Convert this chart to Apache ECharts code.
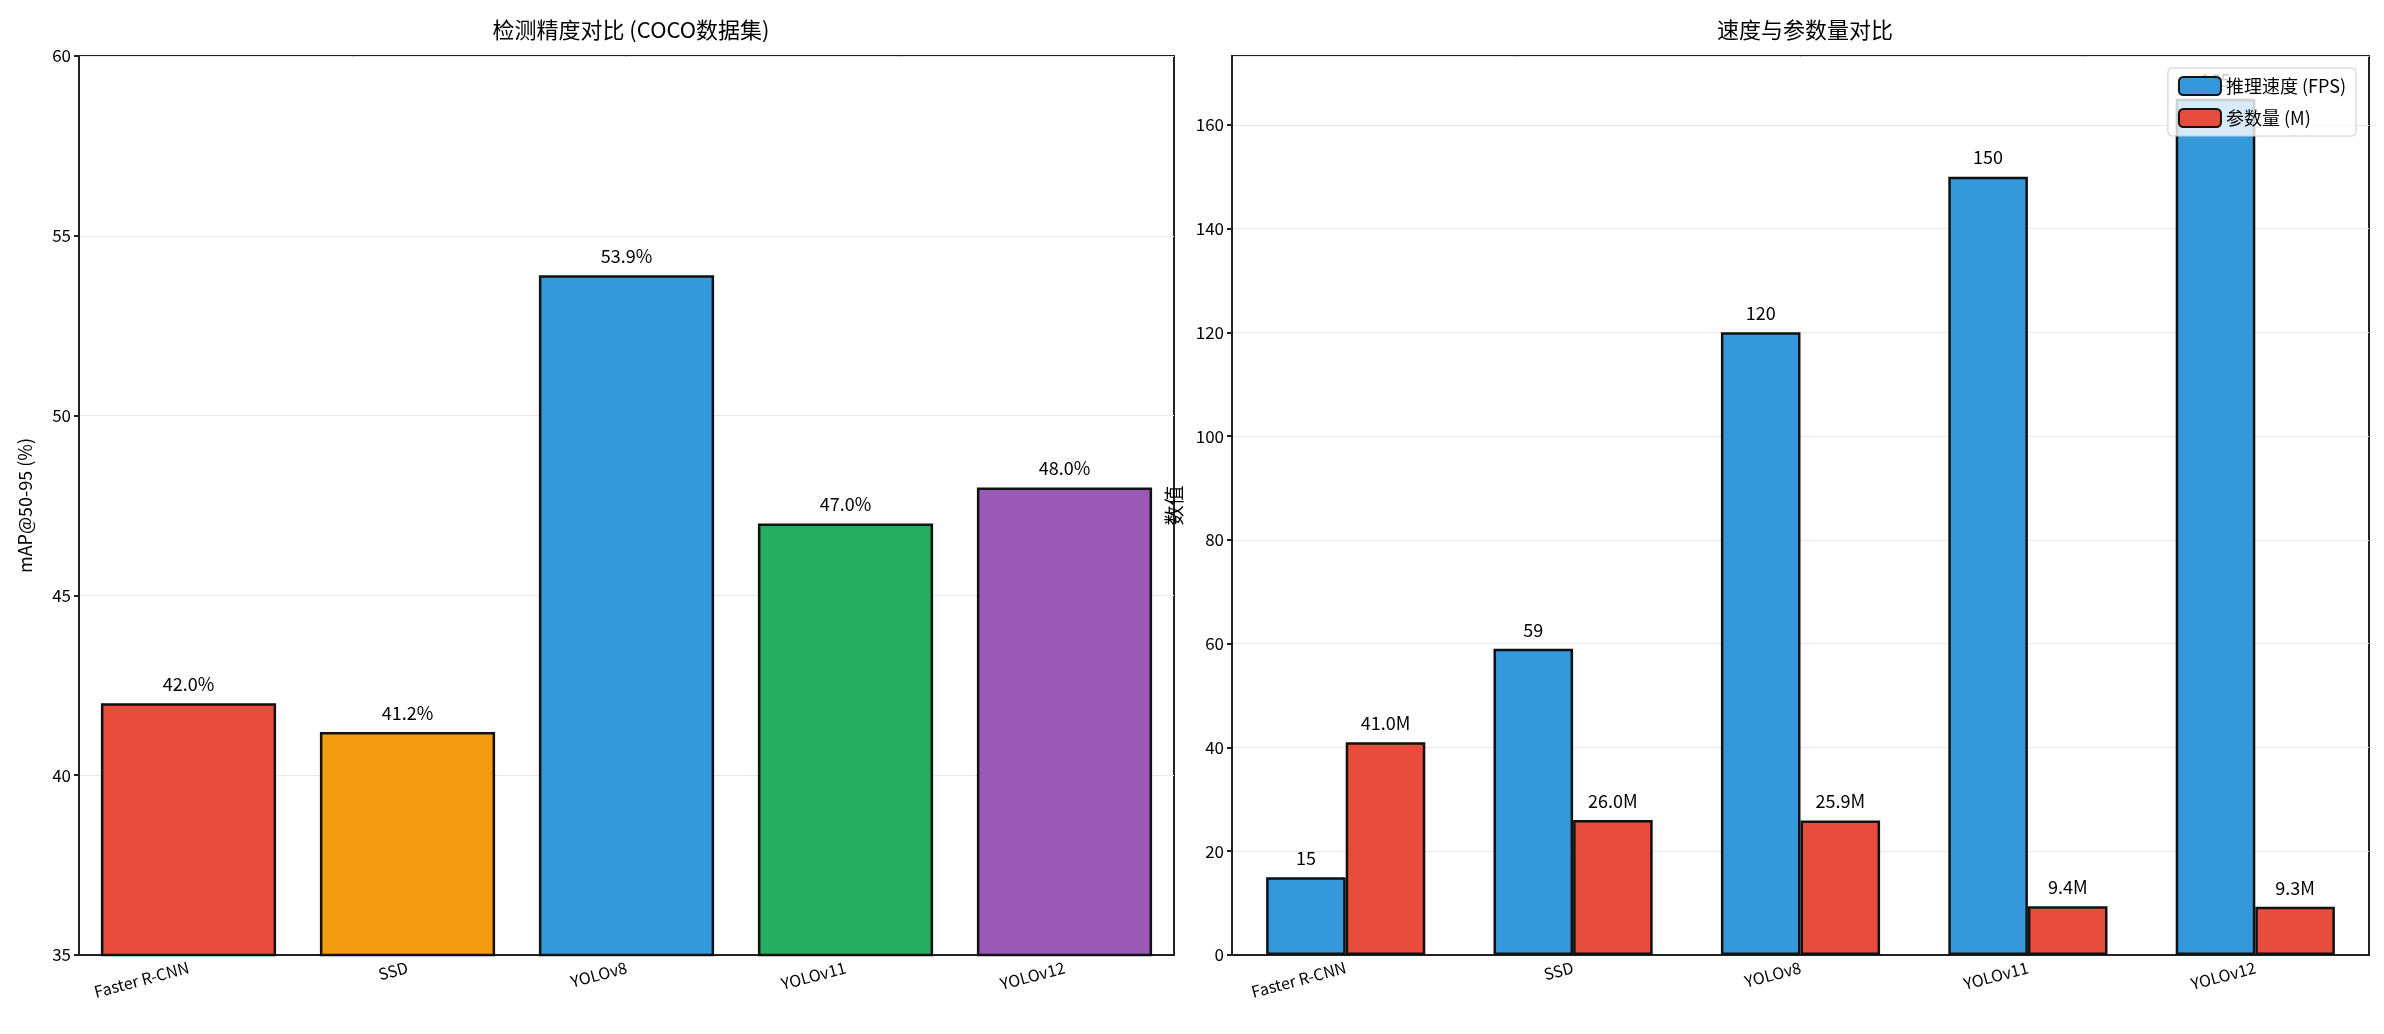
<!DOCTYPE html>
<html><head><meta charset="utf-8">
<script src="https://cdn.jsdelivr.net/npm/echarts@6/dist/echarts.min.js"></script>
<style>html,body{margin:0;background:#fff}#c{width:2384px;height:1034px}</style></head>
<body><div id="c"></div>
<script>
const models = ['Faster R-CNN','SSD','YOLOv8','YOLOv11','YOLOv12'];
const mapValues = [42.0, 41.2, 53.9, 47.0, 48.0];
const mapColors = ['#e74c3c','#f39c12','#3498db','#27ae60','#9b59b6'];
const fpsValues = [15, 59, 120, 150, 165];
const paramValues = [41.0, 26.0, 25.9, 9.4, 9.3];
const F = '"Noto Sans CJK SC", "DejaVu Sans", sans-serif';
const chart = echarts.init(document.getElementById('c'));
const axisX = (gi) => ({
  type:'category', gridIndex:gi, data:models,
  axisLine:{lineStyle:{color:'#222',width:2}}, axisTick:{alignWithLabel:true,lineStyle:{color:'#222',width:2}},
  axisLabel:{rotate:15,fontSize:16,color:'#000',fontFamily:F,margin:12}
});
const lbl = (fmt) => ({show:true,position:'top',distance:10,fontSize:18,color:'#000',fontFamily:F,formatter:fmt});
chart.setOption({
  animation:false,
  title:[
    {text:'检测精度对比 (COCO数据集)',left:626,top:14,textAlign:'center',textStyle:{fontSize:22,fontWeight:'normal',fontFamily:F,color:'#000'}},
    {text:'速度与参数量对比',left:1800,top:14,textAlign:'center',textStyle:{fontSize:22,fontWeight:'normal',fontFamily:F,color:'#000'}}
  ],
  grid:[
    {left:79,top:56,width:1095,height:899,show:true,borderColor:'#222',borderWidth:2},
    {left:1232,top:56,width:1137,height:899,show:true,borderColor:'#222',borderWidth:2}
  ],
  legend:{
    top:68,right:28,orient:'vertical',itemWidth:42,itemHeight:18,itemGap:12,
    backgroundColor:'rgba(255,255,255,0.8)',borderColor:'#ccc',borderWidth:1,borderRadius:4,padding:[8,10],
    textStyle:{fontSize:18,fontFamily:F,color:'#000'},
    data:['推理速度 (FPS)','参数量 (M)']
  },
  xAxis:[axisX(0),axisX(1)],
  yAxis:[
    {type:'value',gridIndex:0,min:35,max:60,interval:5,name:'mAP@50-95 (%)',nameLocation:'middle',nameGap:45,
     nameTextStyle:{fontSize:18,fontFamily:F,color:'#000'},
     axisLine:{show:true,lineStyle:{color:'#222',width:2}},axisTick:{show:true,lineStyle:{color:'#222',width:2}},
     axisLabel:{fontSize:17,color:'#000',fontFamily:F},splitLine:{lineStyle:{color:'#e6e6e6'}}},
    {type:'value',gridIndex:1,min:0,max:173.25,interval:20,name:'数值',nameLocation:'middle',nameGap:48,
     nameTextStyle:{fontSize:20,fontFamily:F,color:'#000'},
     axisLine:{show:true,lineStyle:{color:'#222',width:2}},axisTick:{show:true,lineStyle:{color:'#222',width:2}},
     axisLabel:{fontSize:17,color:'#000',fontFamily:F,showMaxLabel:false},splitLine:{lineStyle:{color:'#e6e6e6'}}}
  ],
  series:[
    {type:'bar',xAxisIndex:0,yAxisIndex:0,barWidth:'80%',
     data:mapValues.map((v,i)=>({value:v,itemStyle:{color:mapColors[i]}})),
     itemStyle:{borderColor:'#111',borderWidth:2.5},label:lbl(p=>p.value.toFixed(1)+'%')},
    {type:'bar',name:'推理速度 (FPS)',xAxisIndex:1,yAxisIndex:1,barWidth:'35%',barGap:'0%',data:fpsValues,
     itemStyle:{color:'#3498db',borderColor:'#111',borderWidth:2.5},label:lbl(p=>String(p.value)),z:1},
    {type:'bar',name:'参数量 (M)',xAxisIndex:1,yAxisIndex:1,barWidth:'35%',barGap:'0%',data:paramValues,
     itemStyle:{color:'#e74c3c',borderColor:'#111',borderWidth:2.5},label:lbl(p=>p.value.toFixed(1)+'M')}
  ]
});
</script></body></html>
